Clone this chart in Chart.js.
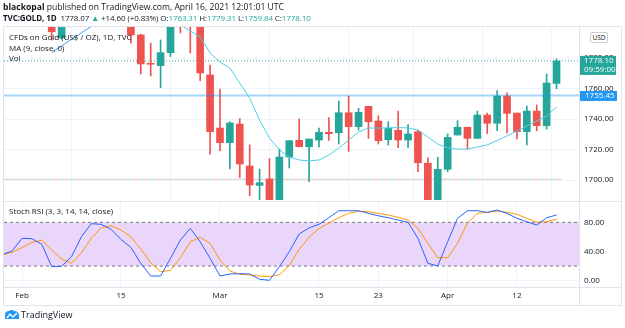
<!DOCTYPE html>
<html>
<head>
<meta charset="utf-8">
<script src="https://cdn.jsdelivr.net/npm/chart.js@4.4.1/dist/chart.umd.min.js"></script>
<style>
  body { margin:0; width:625px; height:328px; background:#fff; position:relative; overflow:hidden;
         font-family:"Open Sans", sans-serif; color:#131722; }
  .t { position:absolute; white-space:nowrap; font-size:8px; line-height:10px; z-index:3; }
  .ln { position:absolute; background:#e0e3eb; z-index:2; }
  canvas { position:absolute; left:0; z-index:1; }
  .up { color:#26a69a; }
  #usd { position:absolute; left:590px; top:32px; width:16px; height:9px; border:1px solid #c9ccd6; border-radius:2px;
         font-size:6.5px; line-height:9px; text-align:center; z-index:3; background:#fff; }
</style>
</head>
<body>
<div class="t" style="left:3px;top:2px;font-size:8.6px"><b>blackopal</b> published on TradingView.com, April 16, 2021 12:01:01 UTC</div>
<div class="t" style="left:3px;top:13px;letter-spacing:-0.1px"><b>TVC:GOLD, 1D</b>&nbsp; 1778.07 <span class="up">▲</span> +14.60 (+0.83%) O:<span class="up">1763.31</span> H:<span class="up">1779.31</span> L:<span class="up">1759.84</span> C:<span class="up">1778.10</span></div>

<div class="ln" style="left:3px;top:26px;width:619px;height:1px"></div>
<div class="ln" style="left:3px;top:26px;width:1px;height:280px"></div>
<div class="ln" style="left:621px;top:26px;width:1px;height:280px"></div>
<div class="ln" style="left:579px;top:26px;width:1px;height:280px"></div>
<div class="ln" style="left:3px;top:201px;width:619px;height:1px"></div>
<div class="ln" style="left:3px;top:287px;width:619px;height:1px"></div>
<div class="ln" style="left:3px;top:305px;width:619px;height:1px"></div>

<canvas id="price" width="625" height="201" style="top:0"></canvas>
<canvas id="stoch" width="625" height="104" style="top:202px"></canvas>

<div class="t" style="left:9px;top:32px">CFDs on Gold (US$ / OZ), 1D, TVC</div>
<div class="t" style="left:9px;top:43px">MA (9, close, 0)</div>
<div class="t" style="left:9px;top:53px">Vol</div>
<div id="usd">USD</div>
<div class="t" style="left:9px;top:206px">Stoch RSI (3, 3, 14, 14, close)</div>

<svg style="position:absolute;left:4px;top:309px;z-index:3" width="16" height="11" viewBox="0 0 16 11">
  <path d="M1 10 L1 6 Q1 2 5 2 Q7 0 10 2 Q15 2 15 7 L15 10 Z" fill="#2196f3"/>
  <path d="M3 9 L6 5 L9 8 L13 4" stroke="#fff" stroke-width="1.3" fill="none"/>
</svg>
<div class="t" style="left:21px;top:310px;font-size:9px">TradingView</div>

<script>
// trading days shown on the chart
const dates = ['Jan 28','Jan 29',
  'Feb 1','Feb 2','Feb 3','Feb 4','Feb 5','Feb 8','Feb 9','Feb 10','Feb 11','Feb 12',
  'Feb 15','Feb 16','Feb 17','Feb 18','Feb 19','Feb 22','Feb 23','Feb 24','Feb 25','Feb 26',
  'Mar 1','Mar 2','Mar 3','Mar 4','Mar 5','Mar 8','Mar 9','Mar 10','Mar 11','Mar 12',
  'Mar 15','Mar 16','Mar 17','Mar 18','Mar 19','Mar 22','Mar 23','Mar 24','Mar 25','Mar 26',
  'Mar 29','Mar 30','Mar 31','Apr 1','Apr 2','Apr 5','Apr 6','Apr 7','Apr 8','Apr 9',
  'Apr 12','Apr 13','Apr 14','Apr 15','Apr 16'];

const open = [1844,1843,1847,1860,1838,1834,1793.1,1814,1833,1838,1842,1826,
  1823,1819,1795.1,1776.3,1775.0,1783.5,1808,1805,1802,1768.9,
  1734.1,1724.5,1736.7,1709.2,1696.5,1700.7,1683.0,1715.1,1726.0,1721.8,
  1726.2,1731.3,1731.0,1744.1,1735.0,1748.3,1738.7,1726.4,1732.6,1726.2,
  1731.7,1711.0,1684.0,1707.0,1729.5,1734.6,1727.3,1742.6,1737.2,1755.1,
  1743.9,1731.7,1745.2,1735.6,1763.31];
const high = [1859,1866,1875,1862,1845,1837,1816,1836,1842,1849,1848,1829,
  1826,1822,1795.6,1789.8,1791.8,1815,1816,1815,1805,1775.4,
  1759.7,1738.2,1740.2,1723.0,1707.2,1714.0,1720.3,1725.8,1740.0,1726.9,
  1734.1,1740.9,1751.8,1754.9,1747.0,1748.3,1742.2,1738.2,1745.2,1736.3,
  1732.8,1714.6,1714.9,1730.2,1738.9,1734.6,1745.2,1743.9,1758.6,1757.2,
  1743.9,1748.5,1749.2,1769.5,1779.31];
const low = [1831,1836,1846,1830,1829,1791.8,1792.5,1808,1828,1832,1821,1808,
  1812,1789.8,1769.5,1768.2,1760.5,1780.9,1796.4,1783.3,1765.1,1717.0,
  1719.2,1707.2,1701.5,1689.7,1686.0,1676.0,1680.0,1707.9,1721.8,1698.9,
  1721.6,1726.0,1723.6,1718.8,1732.8,1727.3,1723.6,1723.0,1721.2,1721.2,
  1705.4,1677.0,1678.0,1705.4,1729.5,1720.3,1727.3,1730.4,1732.3,1730.8,
  1726.9,1723.0,1732.3,1733.4,1759.84];
const close = [1843,1847,1860,1838,1834,1797.2,1814,1833,1838,1842,1826,1823,
  1819,1795.1,1776.1,1775.9,1783.5,1808,1805,1802,1770.2,1731.7,
  1724.5,1737.4,1710.5,1696.7,1698.2,1683.0,1715.1,1725.8,1721.8,1726.9,
  1731.3,1730.4,1744.1,1735.0,1744.4,1738.2,1725.8,1734.1,1726.2,1730.2,
  1711.3,1685.0,1707.0,1728.0,1734.6,1727.3,1742.6,1737.2,1755.1,1743.7,
  1731.7,1745.2,1735.6,1763.6,1778.10];

// MA(9) as drawn (hidden above the pane before Feb 22)
const ma9 = [null,null,null,null,null,null,null,null,null,null,null,null,
  null,null,null,null,null,1805,1801.6,1797.7,1793.8,1783.3,
  1777.4,1773.4,1763.6,1753.8,1739.3,1727.5,1719.7,1715.1,1713.1,1712.5,
  1713.1,1716.4,1721.0,1726.2,1731.5,1734.1,1734.1,1734.1,1734.4,1734.1,
  1732.8,1728.2,1723.6,1721.0,1720.3,1720.3,1721.6,1723.0,1725.9,1728.9,
  1732.1,1735.4,1738.7,1742.0,1747.9];

const stochK = [35.7,40.7,58.1,57.6,49.9,19.1,19.6,32.8,60.3,78.2,77.3,70.5,
  56.7,45.5,23.8,6.3,6.3,30.6,55.8,71.8,53.4,30.6,
  6.3,9.1,9.5,9.1,1.8,0.4,19.1,39.7,64.0,72.5,
  77.3,86.4,96.0,96.0,96.0,92.4,89.1,86.4,83.2,80.1,
  58.1,23.8,20.1,53.4,85.6,96.0,96.0,93.8,97.0,92.4,
  85.6,80.9,76.4,86.4,90.1];
const stochD = [35.2,38.9,45.2,52.6,55.4,42.0,29.7,23.8,38.3,58.1,72.7,75.4,
  69.5,60.0,43.4,24.6,12.2,14.1,31.5,53.4,59.5,51.2,
  28.3,13.2,8.7,7.7,6.3,5.5,8.0,20.5,43.0,59.5,
  71.5,79.0,86.4,92.4,95.3,94.6,92.4,90.1,86.9,83.2,
  71.8,51.2,31.5,31.5,51.2,78.7,92.4,93.8,95.6,93.8,
  91.1,85.6,80.1,80.9,84.2];

const tickDates = ['Feb 1','Feb 15','Mar 1','Mar 15','Mar 23','Apr 1','Apr 12'];
const tickText  = ['Feb','15','Mar','15','23','Apr','12'];

const levelPrice = 1755.45;     // horizontal line drawing
const lastClose = 1778.10;
const countdown = '09:59:00';
const baseLevel = 1700.5;       // dashed line near the lows
const trend = [{d:'Feb 4', p:1783.7}, {d:'Feb 15', p:1813.4}];
const bandHi = 80, bandLo = 20;

const UP = '#26a69a', DOWN = '#ef5350', GRID = '#f0f3fa', TXT = '#131722';
const FONT = {family:'"Open Sans", sans-serif', size:8};
const xMin = 0.18, xMax = 58.27;
const tickIdx = tickDates.map(d => dates.indexOf(d));
const idx = dates.map((d, i) => i);

Chart.defaults.animation = false;
Chart.defaults.responsive = false;
Chart.defaults.devicePixelRatio = 1;
Chart.defaults.plugins.legend.display = false;
Chart.defaults.plugins.tooltip.enabled = false;

function flat(v, x1, x2) { return [{x:x1, y:v}, {x:x2, y:v}]; }
function noPad(s) { s.paddingTop = 0; s.paddingBottom = 0; s.paddingLeft = 0; s.paddingRight = 0; }

const xGrid = (labels) => ({
  type:'linear', min:xMin, max:xMax, offset:false,
  grid:{color:GRID, drawTicks:false}, border:{display:false},
  afterBuildTicks: s => { s.ticks = tickIdx.map(v => ({value:v})); },
  ticks: labels
    ? {display:true, autoSkip:false, maxRotation:0, padding:4, color:TXT, font:FONT,
       callback: v => tickText[tickIdx.indexOf(v)]}
    : {display:false},
  afterFit: s => { s.height = labels ? 19 : 0; noPad(s); }
});

const yAxis = (min, max, ticks) => ({
  position:'right', min:min, max:max,
  grid:{color:GRID, drawTicks:false}, border:{display:false},
  afterBuildTicks: s => { s.ticks = ticks.map(v => ({value:v})); },
  ticks:{padding:5, color:TXT, font:FONT, callback: v => v.toFixed(2)},
  afterFit: s => { s.width = 42; noPad(s); }
});

const tagPlugin = {
  id:'tags',
  afterDraw(c) {
    const ctx = c.ctx, y = c.scales.y, x0 = c.chartArea.right + 1;
    ctx.save();
    ctx.font = '8px "Open Sans"';
    ctx.textBaseline = 'middle';
    let py = y.getPixelForValue(levelPrice);
    ctx.fillStyle = '#2196f3';
    ctx.fillRect(x0, py - 4.5, 37, 10);
    ctx.fillStyle = '#fff';
    ctx.fillText(levelPrice.toFixed(2), x0 + 5, py + 0.5);
    py = y.getPixelForValue(lastClose);
    ctx.fillStyle = UP;
    ctx.fillRect(x0, py - 5, 36, 19);
    ctx.fillStyle = '#fff';
    ctx.fillText(lastClose.toFixed(2), x0 + 4, py);
    ctx.fillText(countdown, x0 + 4, py + 9);
    ctx.restore();
  }
};

new Chart('price', {
  type:'bar',
  data:{
    datasets:[
      {type:'line', data:flat(levelPrice, xMin, xMax), borderColor:'rgba(33,150,243,0.4)', borderWidth:2, pointRadius:0, order:0},
      {type:'line', data:trend.map(t => ({x:dates.indexOf(t.d), y:t.p})), borderColor:'#42a5f5', borderWidth:1, pointRadius:0, order:0},
      {type:'line', data:idx.filter(i => ma9[i] !== null).map(i => ({x:i, y:ma9[i]})), borderColor:'#4dd0e1', borderWidth:1, pointRadius:0, tension:0, order:1},
      {data:idx.map(i => ({x:i, y:[open[i], close[i]]})), backgroundColor:idx.map(i => close[i] >= open[i] ? UP : DOWN),
       barThickness:7, grouped:false, minBarLength:1, order:2},
      {data:idx.map(i => ({x:i, y:[low[i], high[i]]})), backgroundColor:idx.map(i => close[i] >= open[i] ? UP : DOWN),
       barThickness:1, grouped:false, order:3},
      {type:'line', data:flat(lastClose, xMin, xMax), borderColor:UP, borderWidth:1, borderDash:[1,2], pointRadius:0, order:4},
      {type:'line', data:flat(baseLevel, xMin, 56.5), borderColor:'rgba(239,83,80,0.4)', borderWidth:1, borderDash:[5,5], pointRadius:0, order:5},
      {type:'line', data:flat(baseLevel, xMin, 56.5), borderColor:'rgba(38,166,154,0.35)', borderWidth:1, borderDash:[5,5], borderDashOffset:5, pointRadius:0, order:5}
    ]
  },
  options:{
    layout:{padding:{left:4, right:4, top:27, bottom:1}},
    scales:{
      x: xGrid(false),
      y: yAxis(1686.89, 1800.33, [1700,1720,1740,1760,1780])
    }
  },
  plugins:[tagPlugin]
});

new Chart('stoch', {
  type:'line',
  data:{
    datasets:[
      {data:idx.map(i => ({x:i, y:stochK[i]})), borderColor:'#2962ff', borderWidth:1, pointRadius:0, order:0},
      {data:idx.map(i => ({x:i, y:stochD[i]})), borderColor:'#ff9800', borderWidth:1, pointRadius:0, order:1},
      {data:flat(bandHi, xMin, xMax), borderColor:'#787b86', borderWidth:1, borderDash:[3,3], pointRadius:0, order:2},
      {data:flat(bandLo, xMin, xMax), borderColor:'#787b86', borderWidth:1, borderDash:[3,3], pointRadius:0, order:2},
      {data:flat(bandHi, xMin, xMax), borderWidth:0, pointRadius:0, fill:{value:bandLo}, backgroundColor:'#ead6fb', order:3}
    ]
  },
  options:{
    layout:{padding:{left:4, right:4, top:0, bottom:0}},
    scales:{
      x: xGrid(true),
      y: yAxis(-8.8, 108, [0,40,80])
    }
  }
});
</script>
</body>
</html>
